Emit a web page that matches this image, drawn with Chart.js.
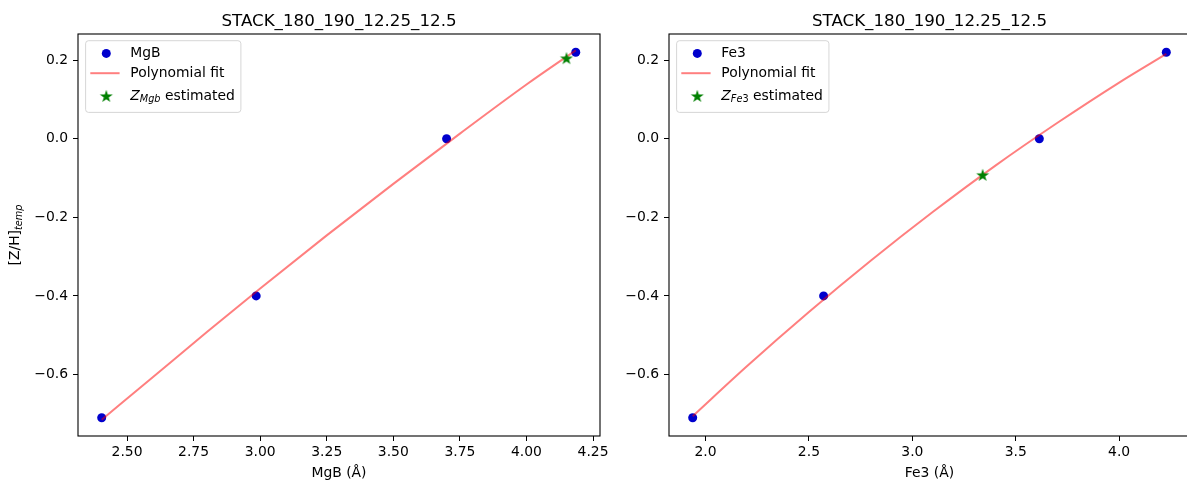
<!DOCTYPE html>
<html>
<head>
<meta charset="utf-8">
<script src="https://cdn.jsdelivr.net/npm/chart.js@4.4.0/dist/chart.umd.min.js"></script>
<style>
html, body { margin: 0; padding: 0; background: #fff; overflow: hidden; width: 1187px; height: 484px; }
canvas { position: absolute; top: 0; }
#mgbChart { left: 0; }
#fe3Chart { left: 590px; }
</style>
</head>
<body>
<canvas id="mgbChart" width="620" height="484"></canvas>
<canvas id="fe3Chart" width="620" height="484"></canvas>
<script>
// data
const titleText = 'STACK_180_190_12.25_12.5';
const zValues = [-0.71, -0.40, 0.00, 0.22];
const zTicks = [-0.6, -0.4, -0.2, 0.0, 0.2];

const mgbIndex = [2.405, 2.985, 3.70, 4.185];
const mgbFitX = [2.405, 2.6, 2.8, 3.0, 3.25, 3.5, 3.75, 4.0, 4.185];
const mgbFitY = [-0.715, -0.605, -0.492, -0.381, -0.246, -0.115, 0.013, 0.138, 0.225];
const mgbEstimate = [{ x: 4.15, y: 0.205 }];
const mgbTicks = [2.50, 2.75, 3.00, 3.25, 3.50, 3.75, 4.00, 4.25];

const fe3Index = [1.938, 2.571, 3.614, 4.228];
const fe3FitX = [1.938, 2.2, 2.5, 2.8, 3.1, 3.4, 3.7, 4.0, 4.228];
const fe3FitY = [-0.706, -0.579, -0.441, -0.310, -0.186, -0.069, 0.040, 0.143, 0.216];
const fe3Estimate = [{ x: 3.34, y: -0.092 }];
const fe3Ticks = [2.0, 2.5, 3.0, 3.5, 4.0];

const FONT = '"DejaVu Sans"';
const TXT = 13.9;

// filled green star marker
function makeStar() {
    const c = document.createElement('canvas');
    c.width = 16; c.height = 16;
    const g = c.getContext('2d');
    const R = 6.8, r = R * 0.382;
    g.beginPath();
    for (let i = 0; i < 10; i++) {
        const rad = i % 2 === 0 ? R : r;
        const ang = -Math.PI / 2 + i * Math.PI / 5;
        const px = 8 + rad * Math.cos(ang), py = 8.6 + rad * Math.sin(ang);
        if (i === 0) g.moveTo(px, py); else g.lineTo(px, py);
    }
    g.closePath();
    g.fillStyle = '#008000';
    g.fill();
    return c;
}
const starImg = makeStar();

// text pieces: {t, it (italic), sub (subscript)}
function drawParts(ctx, x, y, parts, draw) {
    let cx = x;
    for (const p of parts) {
        const size = p.sub ? TXT * 0.7 : TXT;
        ctx.font = (p.it ? 'italic ' : '') + size + 'px ' + FONT;
        if (draw) ctx.fillText(p.t, cx, y + (p.sub ? 3 : 0));
        cx += ctx.measureText(p.t).width;
    }
    return cx - x;
}

const decorPlugin = {
    id: 'decor',
    afterDraw(chart, args, opts) {
        const { ctx, chartArea: a } = chart;
        ctx.save();
        // spines
        ctx.strokeStyle = '#000';
        ctx.lineWidth = 1.1;
        ctx.strokeRect(a.left, a.top, a.right - a.left, a.bottom - a.top);

        // title
        ctx.fillStyle = '#000';
        ctx.font = '16.7px ' + FONT;
        ctx.textAlign = 'center';
        ctx.textBaseline = 'alphabetic';
        ctx.fillText(opts.title, (a.left + a.right) / 2, a.top - 8.3);

        // y label
        if (opts.yLabel) {
            ctx.textAlign = 'left';
            const w = drawParts(ctx, 0, 0, opts.yLabel, false);
            ctx.save();
            ctx.translate(19, (a.top + a.bottom) / 2 + w / 2);
            ctx.rotate(-Math.PI / 2);
            drawParts(ctx, 0, 0, opts.yLabel, true);
            ctx.restore();
        }

        // legend
        ctx.textAlign = 'left';
        ctx.textBaseline = 'middle';
        let maxW = 0;
        opts.legend.forEach(item => { maxW = Math.max(maxW, drawParts(ctx, 0, 0, item.parts, false)); });
        const bx = a.left + 7.6, by = a.top + 6.7;
        const bw = 44.7 + maxW + 6, bh = 71.7;
        ctx.beginPath();
        ctx.roundRect(bx, by, bw, bh, 3);
        ctx.fillStyle = 'rgba(255,255,255,0.8)';
        ctx.fill();
        ctx.strokeStyle = 'rgba(204,204,204,0.8)';
        ctx.lineWidth = 1;
        ctx.stroke();

        const mx = a.left + 28.3, tx = a.left + 52.3;
        const rows = [a.top + 19.4, a.top + 39.2, a.top + 62.6];
        opts.legend.forEach((item, i) => {
            const y = rows[i];
            if (item.kind === 'dot') {
                ctx.beginPath();
                ctx.arc(mx, y, 4.5, 0, Math.PI * 2);
                ctx.fillStyle = '#0000cd';
                ctx.fill();
            } else if (item.kind === 'line') {
                ctx.beginPath();
                ctx.moveTo(a.left + 12.3, y);
                ctx.lineTo(a.left + 41.6, y);
                ctx.strokeStyle = 'rgba(255,0,0,0.5)';
                ctx.lineWidth = 2;
                ctx.stroke();
            } else {
                ctx.drawImage(starImg, mx - 8, y - 8.6);
            }
            ctx.fillStyle = '#000';
            drawParts(ctx, tx, y, item.parts, true);
        });
        ctx.restore();
    }
};

function makeChart(id, cfg) {
    const ctx = document.getElementById(id).getContext('2d');
    const tickFont = { family: FONT, size: TXT };
    new Chart(ctx, {
        type: 'scatter',
        data: {
            datasets: [
                {
                    data: cfg.fitX.map((v, i) => ({ x: v, y: cfg.fitY[i] })),
                    showLine: true,
                    borderColor: 'rgba(255,0,0,0.5)',
                    borderWidth: 2,
                    pointRadius: 0,
                    cubicInterpolationMode: 'monotone',
                    order: 1
                },
                {
                    data: cfg.index.map((v, i) => ({ x: v, y: zValues[i] })),
                    pointRadius: 4.5,
                    backgroundColor: '#0000cd',
                    borderWidth: 0,
                    order: 2
                },
                {
                    data: cfg.estimate,
                    pointStyle: starImg,
                    order: 0
                }
            ]
        },
        options: {
            responsive: false,
            animation: false,
            events: [],
            layout: { padding: { left: 0, top: 34, right: 20, bottom: 0 } },
            plugins: {
                legend: { display: false },
                tooltip: { enabled: false },
                decor: { title: titleText, yLabel: cfg.yLabel, legend: cfg.legend }
            },
            scales: {
                x: {
                    type: 'linear',
                    min: cfg.xMin,
                    max: cfg.xMax,
                    afterBuildTicks: s => { s.ticks = cfg.xTicks.map(v => ({ value: v })); },
                    afterFit: s => { s.height = 48; },
                    grid: { drawOnChartArea: false, drawTicks: true, tickLength: 5, tickColor: '#000', tickWidth: 1 },
                    border: { display: false },
                    ticks: {
                        color: '#000',
                        font: tickFont,
                        padding: 3,
                        maxRotation: 0,
                        autoSkip: false,
                        callback: v => v.toFixed(cfg.xDigits)
                    },
                    title: {
                        display: true,
                        text: cfg.xTitle,
                        color: '#000',
                        font: tickFont,
                        padding: { top: 0, bottom: 2 }
                    }
                },
                y: {
                    type: 'linear',
                    min: -0.7565,
                    max: 0.2665,
                    afterBuildTicks: s => { s.ticks = zTicks.map(v => ({ value: v })); },
                    afterFit: s => { s.width = cfg.yWidth; },
                    grid: { drawOnChartArea: false, drawTicks: true, tickLength: 5, tickColor: '#000', tickWidth: 1 },
                    border: { display: false },
                    ticks: {
                        color: '#000',
                        font: tickFont,
                        padding: 5,
                        autoSkip: false,
                        callback: v => v.toFixed(1).replace('-', '\u2212')
                    }
                }
            }
        },
        plugins: [decorPlugin]
    });
}

makeChart('mgbChart', {
    index: mgbIndex, fitX: mgbFitX, fitY: mgbFitY, estimate: mgbEstimate,
    xMin: 2.316, xMax: 4.276, xTicks: mgbTicks, xDigits: 2, xTitle: 'MgB (Å)', yWidth: 78,
    yLabel: [{ t: '[Z/H]' }, { t: 'temp', it: true, sub: true }],
    legend: [
        { kind: 'dot', parts: [{ t: 'MgB' }] },
        { kind: 'line', parts: [{ t: 'Polynomial fit' }] },
        { kind: 'star', parts: [{ t: 'Z', it: true }, { t: 'Mgb', it: true, sub: true }, { t: ' estimated' }] }
    ]
});

makeChart('fe3Chart', {
    index: fe3Index, fitX: fe3FitX, fitY: fe3FitY, estimate: fe3Estimate,
    xMin: 1.8235, xMax: 4.3425, xTicks: fe3Ticks, xDigits: 1, xTitle: 'Fe3 (Å)', yWidth: 79,
    yLabel: null,
    legend: [
        { kind: 'dot', parts: [{ t: 'Fe3' }] },
        { kind: 'line', parts: [{ t: 'Polynomial fit' }] },
        { kind: 'star', parts: [{ t: 'Z', it: true }, { t: 'Fe', it: true, sub: true }, { t: '3', sub: true }, { t: ' estimated' }] }
    ]
});
</script>
</body>
</html>
